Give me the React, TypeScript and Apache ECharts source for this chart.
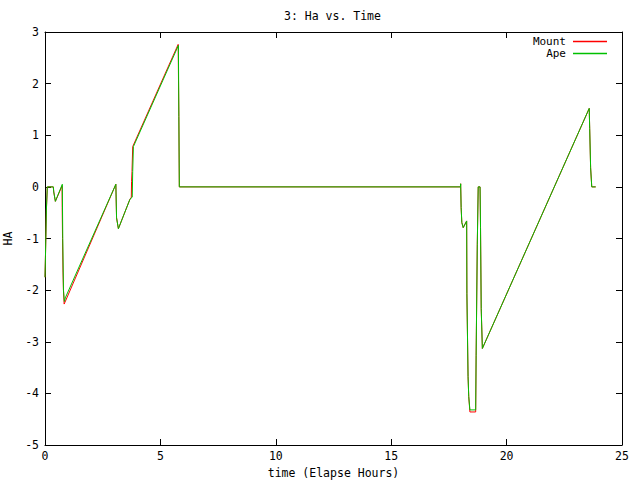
import React, { useEffect, useRef } from "react";
import * as echarts from "echarts";

const TITLE = "3: Ha vs. Time";
const X_NAME = "time (Elapse Hours)";
const Y_NAME = "HA";
const SERIES_NAMES = ["Mount", "Ape"];
const SERIES_COLORS = ["#ff0000", "#00c000"];

// Breakpoints [elapsed hours, HA]
const mountData: [number, number][] = [
  [0.0, -1.75], [0.02, -1.35], [0.06, -0.45], [0.1, 0], [0.36, 0], [0.38, -0.1],
  [0.45, -0.28], [0.74, 0.02], [0.745, -0.4], [0.76, -1.0], [0.78, -1.65], [0.8, -2.0],
  [0.83, -2.27], [0.86, -2.24], [3.07, 0.05], [3.1, -0.6], [3.18, -0.81], [3.68, -0.24],
  [3.74, -0.2], [3.75, 0.1], [3.77, 0.3], [3.8, 0.78], [5.77, 2.76], [5.8, 1.36],
  [5.82, 0], [18.0, 0], [18.01, 0.06], [18.03, -0.4], [18.06, -0.69], [18.12, -0.79],
  [18.27, -0.66], [18.28, -2.07], [18.33, -3.67], [18.36, -4.06], [18.41, -4.36],
  [18.66, -4.36], [18.68, -3.26], [18.73, -1.11], [18.77, 0], [18.85, 0], [18.87, -0.79],
  [18.9, -2.36], [18.95, -3.13], [23.58, 1.52], [23.6, 1.13], [23.64, 0.37], [23.69, 0],
  [23.86, 0],
];

const apeData: [number, number][] = [
  [0.0, -1.75], [0.02, -1.35], [0.06, -0.45], [0.1, 0], [0.36, 0], [0.38, -0.1],
  [0.45, -0.28], [0.75, 0.05], [0.77, -1.0], [0.8, -2.0], [0.84, -2.22], [0.88, -2.15],
  [3.07, 0.05], [3.1, -0.6], [3.18, -0.81], [3.68, -0.24], [3.78, -0.2], [3.8, 0.3],
  [3.83, 0.78], [5.78, 2.74], [5.8, 1.36], [5.82, 0], [18.0, 0], [18.01, 0.06],
  [18.03, -0.4], [18.06, -0.69], [18.12, -0.79], [18.27, -0.66], [18.28, -2.07],
  [18.33, -3.67], [18.36, -4.06], [18.41, -4.32], [18.66, -4.32], [18.68, -3.26],
  [18.73, -1.11], [18.77, 0], [18.85, 0], [18.87, -0.79], [18.9, -2.36], [18.95, -3.13],
  [23.58, 1.52], [23.6, 1.13], [23.64, 0.37], [23.69, 0], [23.86, 0],
];

const X_MIN = 0, X_MAX = 25, X_STEP = 5;
const Y_MIN = -5, Y_MAX = 3, Y_STEP = 1;

const FONT = "DejaVu Sans Mono";
const FS = 11.5;

export default function App() {
  const ref = useRef<HTMLDivElement>(null);
  useEffect(() => {
    if (!ref.current) return;
    const chart = echarts.init(ref.current, undefined, { renderer: "svg" });
    const txt = { fontFamily: FONT, fontSize: FS, color: "#000" };
    const axisCommon = {
      type: "value" as const,
      splitLine: { show: false },
      axisLine: { show: true, onZero: false, lineStyle: { color: "#000", width: 1 } },
      axisTick: { show: true, inside: true, length: 6, lineStyle: { color: "#000", width: 1 } },
    };
    const datasets = [mountData, apeData];
    chart.setOption({
      animation: false,
      backgroundColor: "#fff",
      title: {
        text: TITLE,
        left: 284,
        top: 10,
        padding: 0,
        textStyle: { ...txt, fontWeight: "normal" },
      },
      legend: SERIES_NAMES.map((n, i) => ({
        data: [
          {
            name: n,
            icon: "path://M0,0 L34,0 L34,1.5 L0,1.5 Z",
            itemStyle: { color: SERIES_COLORS[i], borderWidth: 0 },
          },
        ],
        orient: "vertical",
        align: "right",
        right: 33,
        top: 36 + i * 12,
        padding: 0,
        itemWidth: 34,
        itemHeight: 11,
        selectedMode: false,
        textStyle: { ...txt, fontSize: 11, lineHeight: 11, padding: [0, 2, 0, 0] },
      })),
      grid: {
        left: 45, top: 32, width: 577, height: 413,
        containLabel: false,
        outerBoundsMode: "none",
      },
      xAxis: [
        {
          ...axisCommon,
          position: "bottom",
          min: X_MIN, max: X_MAX, interval: X_STEP,
          name: X_NAME,
          nameLocation: "middle",
          nameGap: 21,
          nameTextStyle: txt,
          axisLabel: { ...txt, margin: 5 },
        },
        {
          ...axisCommon,
          position: "top",
          min: X_MIN, max: X_MAX, interval: X_STEP,
          axisLabel: { show: false },
        },
      ],
      yAxis: [
        {
          ...axisCommon,
          position: "left",
          min: Y_MIN, max: Y_MAX, interval: Y_STEP,
          name: Y_NAME,
          nameLocation: "middle",
          nameGap: 28,
          nameTextStyle: txt,
          axisLabel: { ...txt, margin: 6 },
        },
        {
          ...axisCommon,
          position: "right",
          min: Y_MIN, max: Y_MAX, interval: Y_STEP,
          axisLabel: { show: false },
        },
      ],
      series: SERIES_NAMES.map((n, i) => ({
        name: n,
        type: "line",
        xAxisIndex: 0,
        yAxisIndex: 0,
        data: datasets[i],
        symbol: "none",
        showSymbol: false,
        color: SERIES_COLORS[i],
        lineStyle: { color: SERIES_COLORS[i], width: 1 },
      })),
    });
    return () => chart.dispose();
  }, []);
  return (
    <div
      ref={ref}
      style={{ position: "absolute", left: 0, top: 0, width: 640, height: 480, background: "#fff" }}
    />
  );
}
